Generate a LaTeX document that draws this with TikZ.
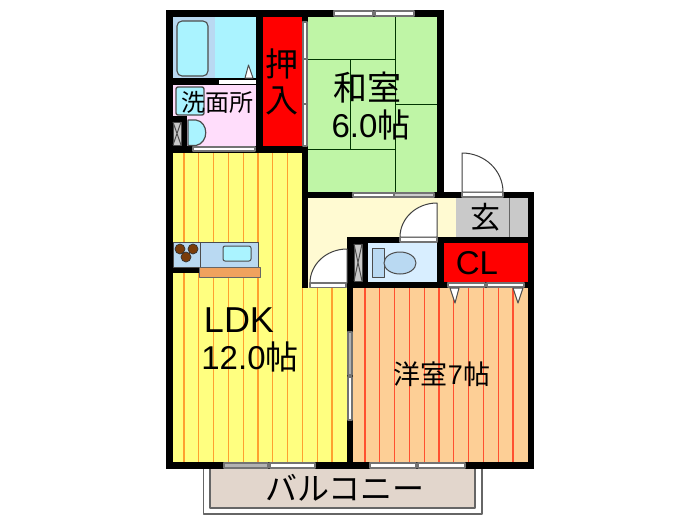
\documentclass[tikz,border=0pt]{standalone}
\usepackage{fontspec}
\setmainfont{Liberation Sans}
\newfontfamily\cjk{Noto Sans CJK JP}
\definecolor{bathside}{HTML}{B9D9F2}
\definecolor{bathblue}{HTML}{AAF3FF}
\definecolor{washpink}{HTML}{FFDDFB}
\definecolor{closetred}{HTML}{FF0000}
\definecolor{tatami}{HTML}{BFF5A6}
\definecolor{hallcream}{HTML}{FFFAD2}
\definecolor{entrygray}{HTML}{C9C9C9}
\definecolor{wcblue}{HTML}{D8EEFF}
\definecolor{ldkyellow}{HTML}{FFFF80}
\definecolor{ldkline}{HTML}{FFA030}
\definecolor{roomorange}{HTML}{FDCF96}
\definecolor{roomline}{HTML}{FF5030}
\definecolor{counterorange}{HTML}{F0A25E}
\definecolor{balconytan}{HTML}{E2D6CC}
\definecolor{stovebrown}{HTML}{7A3C0A}
\tikzset{
  wall/.style={fill=black,draw=none},
  sash/.style={fill=white,draw=gray!90!black,line width=1.1pt},
  doorleaf/.style={fill=white,draw=black!75,line width=1pt},
  matline/.style={draw=black!70!green!70!black,line width=0.9pt},
  fitting/.style={draw=black!70,line width=1pt},
  jptext/.style={inner sep=0pt,text=black},
}
\begin{document}
\begin{tikzpicture}[x=1pt,y=-1pt,line join=round]
        \useasboundingbox (0,0) rectangle (700,525);
        \fill[white] (0,0) rectangle (700,525);
        \fill[bathblue] (173,17) rectangle (256,78);
        \fill[bathside] (173,17) rectangle (215,78);
        \fill[washpink] (173,85) rectangle (256,146);
        \fill[closetred] (263,17) rectangle (302,146);
        \fill[tatami] (308,17) rectangle (437,192);
        \fill[hallcream] (308,198) rectangle (456,237);
        \fill[hallcream] (308,237) rectangle (347,288);
        \fill[entrygray] (456,198) rectangle (528,237);
        \fill[wcblue] (368,243) rectangle (437,282);
        \fill[closetred] (444,243) rectangle (528,282);
        \fill[ldkyellow] (173,153) rectangle (302,288);
        \fill[ldkyellow] (173,288) rectangle (347,462);
        \fill[roomorange] (353,288) rectangle (528,462);
        \foreach \x in {184,198.8,213.6,228.4,243.2,258,272.8,287.6}
        \draw[ldkline,line width=1.3pt] (\x,153)--(\x,462);
        \foreach \x in {302.4,317.2,332}
        \draw[ldkline,line width=1.3pt] (\x,288)--(\x,462);
        \foreach \x in {365,379.8,394.6,409.4,424.2,439,453.8,468.6,483.4,498.2,513}
        \draw[roomline,line width=1.3pt] (\x,288)--(\x,462);
        \draw[matline] (395,17)--(395,192);
        \draw[matline] (308,59)--(395,59);
        \draw[matline] (308,149)--(395,149);
        \draw[matline] (350,59)--(350,149);
        \draw[matline] (395,104)--(437,104);
        \draw[draw=black!60,line width=0.9pt] (509,198)--(509,237);
        \fill[wall] (166,10) rectangle (444,17);
        \fill[wall] (166,10) rectangle (173,469);
        \fill[wall] (256,10) rectangle (263,153);
        \fill[wall] (173,78) rectangle (256,85);
        \fill[wall] (166,146) rectangle (308,153);
        \fill[wall] (302,10) rectangle (308,288);
        \fill[wall] (437,10) rectangle (444,198);
        \fill[wall] (302,192) rectangle (534,198);
        \fill[wall] (528,192) rectangle (534,469);
        \fill[wall] (347,237) rectangle (534,243);
        \fill[wall] (347,282) rectangle (534,288);
        \fill[wall] (347,237) rectangle (353,469);
        \fill[wall] (353,243) rectangle (368,282);
        \fill[wall] (437,243) rectangle (444,282);
        \fill[wall] (166,462) rectangle (534,469);
        \fill[wall] (173,116) rectangle (187,146);
        \fill[wall] (173,267) rectangle (200,273);
        \draw[fitting,fill=bathblue,line width=1.1pt,rounded corners=5pt] (177,21) rectangle (208,76);
        \draw[fitting,fill=white] (245,78)--(248.5,65)--(253,78)--cycle;
        \fill[white] (219,79.5) rectangle (256,84);
        \draw[fitting,fill=bathblue,line width=1.4pt,rounded corners=2pt] (176,87) rectangle (204,115);
        \draw[fitting,fill=bathblue,line width=1.2pt] (188,120) -- (196,120) .. controls (209,122) and (209,143) .. (196,145.5) -- (188,145.5) -- cycle;
        \draw[fitting,fill=entrygray] (173,122) rectangle (181,145);
        \draw[fitting] (173,122)--(181,145) (181,122)--(173,145);
        \draw[sash] (193,147) rectangle (255,151);
        \draw[sash] (303,22) rectangle (307,146);
        \draw[sash] (303,59) rectangle (307,104);
        \draw[sash] (334,11) rectangle (373,16);
        \draw[sash] (375,11) rectangle (414,16);
        \draw[sash] (353,193) rectangle (394,197);
        \draw[sash,fill=gray!40] (394,193) rectangle (434,197);
        \draw[doorleaf] (462,192)--(462,153) arc[start angle=90,end angle=0,x radius=41,y radius=-39]--cycle;
        \draw[sash] (462,192.5) rectangle (503,197);
        \draw[doorleaf] (437,237)--(400,237) arc[start angle=180,end angle=90,x radius=37,y radius=-34]--cycle;
        \draw[sash] (400,237.5) rectangle (437,242);
        \draw[doorleaf] (347,283)--(310,283) arc[start angle=180,end angle=90,x radius=37,y radius=-34]--cycle;
        \draw[sash] (310,283) rectangle (346,287.5);
        \draw[fitting,fill=entrygray] (354,244) rectangle (362,281);
        \draw[fitting] (354,244)--(362,281) (362,244)--(354,281);
        \draw[fitting,fill=bathside] (372,248) rectangle (384,277);
        \draw[fitting,fill=bathside] (400,263) ellipse[x radius=16,y radius=11];
        \draw[sash] (448,283) rectangle (485,287);
        \draw[sash] (487,283) rectangle (524,287);
        \draw[fitting,fill=white] (450,288)--(459,288)--(455,303)--cycle;
        \draw[fitting,fill=white] (513,288)--(523,288)--(518,303)--cycle;
        \draw[sash,fill=gray!60] (348,332) rectangle (352,375);
        \draw[sash] (348,377) rectangle (352,420);
        \draw[fitting,fill=bathside] (173,242) rectangle (258,267);
        \draw[fitting] (200.5,242)--(200.5,267);
        \draw[fitting,fill=bathblue,rounded corners=2pt] (223,246) rectangle (251,261);
        \foreach \x/\y in {180/249,193/249,186/257}
        \draw[draw=black!80,fill=stovebrown,line width=0.7pt] (\x,\y) circle (5);
        \draw[draw=black!60,fill=counterorange] (199,267) rectangle (260,277);
        \draw[sash,fill=gray!60] (224,463) rectangle (268,468);
        \draw[sash] (270,463) rectangle (315,468);
        \draw[sash] (370,463) rectangle (416,468);
        \draw[sash] (418,463) rectangle (465,468);
        \draw[draw=black!60,line width=1.1pt] (203.5,469)--(203.5,514)--(482,514)--(482,469);
        \draw[draw=black!60,fill=balconytan,line width=1.2pt] (210,469)--(210,508)--(475,508)--(475,469);
        \node[jptext,font={\cjk\fontsize{33}{33}\selectfont}] (closettop) at (282,64) {押};
        \node[jptext,font={\cjk\fontsize{33}{33}\selectfont}] (closetbottom) at (282,101) {入};
        \node[jptext,font={\cjk\fontsize{24}{24}\selectfont}] (washroom) at (217,102) {洗面所};
        \node[jptext,font={\cjk\fontsize{34}{34}\selectfont}] (japaneseroom) at (367,88) {和室};
        \node[jptext,font={\fontsize{33}{33}\selectfont}] (japanesesize) at (371,125) {6.0{\cjk 帖}};
        \node[jptext,font={\cjk\fontsize{30}{30}\selectfont}] (entrance) at (485,217) {玄};
        \node[jptext,font={\fontsize{33}{33}\selectfont}] (closetcl) at (477,263) {CL};
        \node[jptext,font={\fontsize{36}{36}\selectfont}] (ldklabel) at (239,320) {LDK};
        \node[jptext,font={\fontsize{33}{33}\selectfont}] (ldksize) at (250,357) {12.0{\cjk 帖}};
        \node[jptext,font={\fontsize{27}{27}\selectfont}] (westernroom) at (442,374) {{\cjk 洋室}7{\cjk 帖}};
        \node[jptext,font={\cjk\fontsize{32}{32}\selectfont}] (balconylabel) at (345,488) {バルコニー};
\end{tikzpicture}
\end{document}
